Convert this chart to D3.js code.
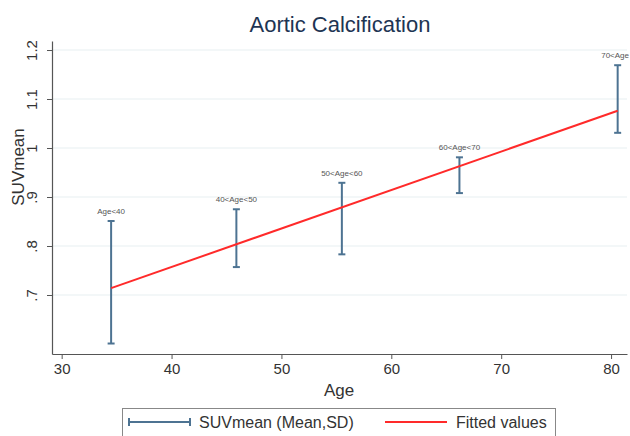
<!DOCTYPE html>
<html>
<head>
<meta charset="utf-8">
<script src="https://cdn.jsdelivr.net/npm/d3@7"></script>
<style>
  body { margin: 0; background: #fff; }
  svg { font-family: Arial, "Liberation Sans", sans-serif; }
</style>
</head>
<body>
<div id="chart"></div>
<script>
// age groups, mean +- SD ranges
var groups = ["Age<40", "40<Age<50", "50<Age<60", "60<Age<70", "70<Age"];
var ages = [34.5, 45.9, 55.5, 66.2, 80.6];
var sdLow = [0.601, 0.757, 0.783, 0.908, 1.031];
var sdHigh = [0.851, 0.875, 0.929, 0.981, 1.169];
// fitted line end points
var fitAge = [34.5, 80.6];
var fitVal = [0.714, 1.076];

var xTicks = [30, 40, 50, 60, 70, 80];
var yTicks = [0.7, 0.8, 0.9, 1.0, 1.1, 1.2];
var yTickLabels = [".7", ".8", ".9", "1", "1.1", "1.2"];

var width = 630, height = 436;
// plot area edges (window.top is reserved, so use other names)
var pLeft = 52, pRight = 627, pTop = 41, pBottom = 354;

var barColor = "#4d7392";
var fitColor = "#ff2a2a";

var svg = d3.select("#chart").append("svg")
  .attr("width", width)
  .attr("height", height);

var x = d3.scaleLinear().domain([29.12, 81.45]).range([pLeft, pRight]);
var y = d3.scaleLinear().domain([0.5796, 1.2184]).range([pBottom, pTop]);

// title
svg.append("text")
  .attr("x", 340).attr("y", 32)
  .attr("text-anchor", "middle")
  .attr("font-size", 22)
  .attr("fill", "#1e3553")
  .text("Aortic Calcification");

// grid
svg.append("g").selectAll("line")
  .data(yTicks)
  .enter().append("line")
  .attr("x1", pLeft).attr("x2", pRight)
  .attr("y1", d => y(d)).attr("y2", d => y(d))
  .attr("stroke", "#e8f0f2")
  .attr("stroke-width", 1.2);

// y axis
var yAxis = svg.append("g")
  .attr("transform", "translate(" + pLeft + ",0)")
  .call(d3.axisLeft(y).tickValues(yTicks).tickSize(5).tickSizeOuter(0)
    .tickFormat((d, i) => yTickLabels[i]));
yAxis.select(".domain").attr("stroke", "#555").attr("stroke-width", 1.2);
yAxis.selectAll(".tick line").attr("stroke", "#555");
yAxis.selectAll(".tick text")
  .attr("font-size", 15)
  .attr("fill", "#333")
  .attr("text-anchor", "middle")
  .attr("x", 0)
  .attr("y", 0)
  .attr("dy", "0.35em")
  .attr("transform", "translate(-20,0) rotate(-90)");

// x axis
var xAxis = svg.append("g")
  .attr("transform", "translate(0," + pBottom + ")")
  .call(d3.axisBottom(x).tickValues(xTicks).tickSize(5).tickSizeOuter(0));
xAxis.select(".domain").attr("stroke", "#555").attr("stroke-width", 1.2);
xAxis.selectAll(".tick line").attr("stroke", "#555");
xAxis.selectAll(".tick text")
  .attr("font-size", 15)
  .attr("fill", "#333")
  .attr("y", 9);

// axis titles
svg.append("text")
  .attr("transform", "translate(24,167) rotate(-90)")
  .attr("text-anchor", "middle")
  .attr("font-size", 17)
  .attr("fill", "#333")
  .text("SUVmean");

svg.append("text")
  .attr("x", 339).attr("y", 396)
  .attr("text-anchor", "middle")
  .attr("font-size", 17)
  .attr("fill", "#333")
  .text("Age");

// error bars
var bars = svg.append("g").selectAll("g")
  .data(ages)
  .enter().append("g");

bars.append("line")
  .attr("x1", d => x(d)).attr("x2", d => x(d))
  .attr("y1", (d, i) => y(sdLow[i])).attr("y2", (d, i) => y(sdHigh[i]))
  .attr("stroke", barColor).attr("stroke-width", 2);
bars.append("line")
  .attr("x1", d => x(d) - 3.5).attr("x2", d => x(d) + 3.5)
  .attr("y1", (d, i) => y(sdHigh[i])).attr("y2", (d, i) => y(sdHigh[i]))
  .attr("stroke", barColor).attr("stroke-width", 2);
bars.append("line")
  .attr("x1", d => x(d) - 3.5).attr("x2", d => x(d) + 3.5)
  .attr("y1", (d, i) => y(sdLow[i])).attr("y2", (d, i) => y(sdLow[i]))
  .attr("stroke", barColor).attr("stroke-width", 2);
bars.append("text")
  .attr("x", d => x(d))
  .attr("y", (d, i) => y(sdHigh[i]) - 7)
  .attr("text-anchor", "middle")
  .attr("font-size", 8)
  .attr("fill", "#555")
  .text((d, i) => groups[i])
  // keep the last label inside the picture
  .each(function() {
    var b = this.getBBox();
    if (b.x + b.width > width - 1) {
      d3.select(this).attr("text-anchor", "end").attr("x", width - 1);
    }
  });

// fitted line
var fitLine = d3.line().x(d => x(d[0])).y(d => y(d[1]));
svg.append("path")
  .datum(fitAge.map((a, i) => [a, fitVal[i]]))
  .attr("d", fitLine)
  .attr("fill", "none")
  .attr("stroke", fitColor)
  .attr("stroke-width", 2);

// legend
var legend = svg.append("g");
legend.append("rect")
  .attr("x", 122.5).attr("y", 408.5)
  .attr("width", 433).attr("height", 40)
  .attr("fill", "#fff")
  .attr("stroke", "#888");
legend.append("line")
  .attr("x1", 129).attr("x2", 190).attr("y1", 422).attr("y2", 422)
  .attr("stroke", barColor).attr("stroke-width", 2);
legend.append("line")
  .attr("x1", 129).attr("x2", 129).attr("y1", 418).attr("y2", 426)
  .attr("stroke", barColor).attr("stroke-width", 2);
legend.append("line")
  .attr("x1", 190).attr("x2", 190).attr("y1", 418).attr("y2", 426)
  .attr("stroke", barColor).attr("stroke-width", 2);
legend.append("text")
  .attr("x", 199).attr("y", 428)
  .attr("font-size", 16)
  .attr("fill", "#333")
  .text("SUVmean (Mean,SD)");
legend.append("line")
  .attr("x1", 385).attr("x2", 447).attr("y1", 422).attr("y2", 422)
  .attr("stroke", fitColor).attr("stroke-width", 2);
legend.append("text")
  .attr("x", 456).attr("y", 428)
  .attr("font-size", 16)
  .attr("fill", "#333")
  .text("Fitted values");
</script>
</body>
</html>
